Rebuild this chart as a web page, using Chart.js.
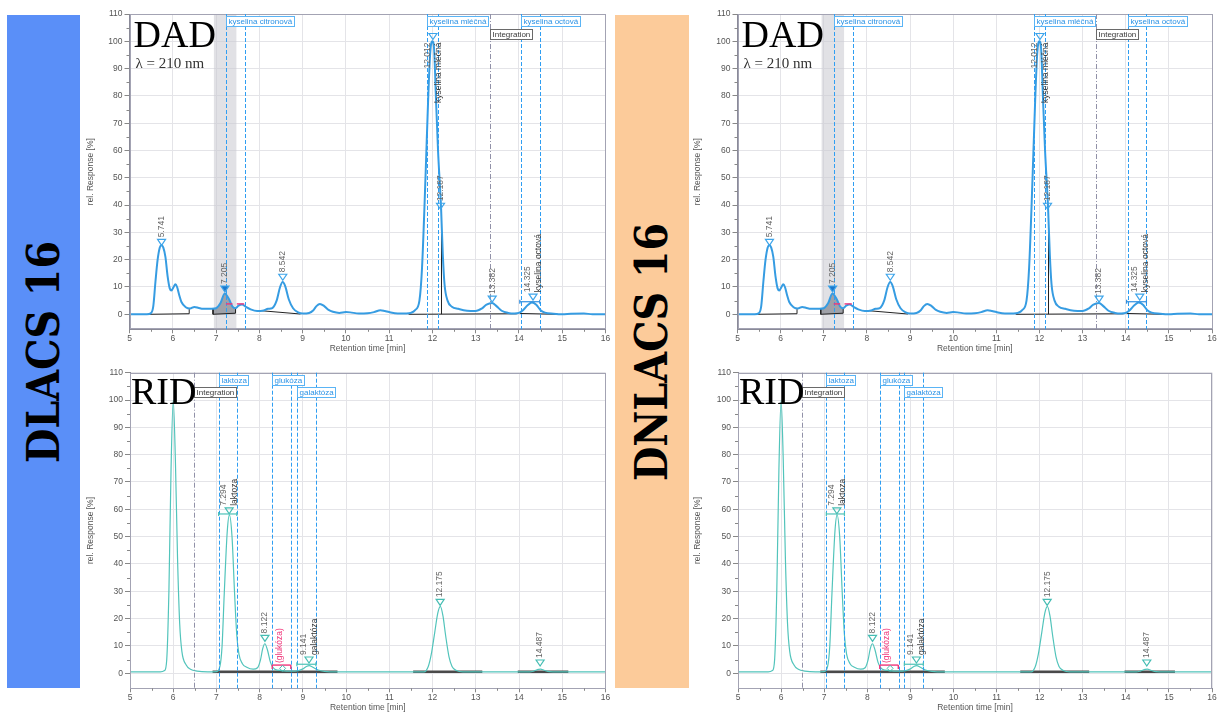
<!DOCTYPE html>
<html>
<head>
<meta charset="utf-8">
<script src="https://cdn.jsdelivr.net/npm/chart.js@4.4.1/dist/chart.umd.min.js"></script>
<style>
html,body{margin:0;padding:0;background:#fff;}
body{width:1228px;height:713px;position:relative;overflow:hidden;}
.panel{position:absolute;}
.banner{position:absolute;overflow:hidden;}
.banner div{position:absolute;left:50%;top:50%;white-space:nowrap;font-family:'DejaVu Serif Condensed','DejaVu Serif';font-stretch:condensed;font-weight:bold;color:#000;transform:translate(-50%,-50%) rotate(-90deg);line-height:1;}
</style>
</head>
<body>
<div class="banner" style="left:7px;top:15px;width:73px;height:673px;background:#5a8ff8;"><div style="font-size:44px;">DLACS 16</div></div>
<div class="banner" style="left:615px;top:15px;width:74px;height:673px;background:#fccb9a;"><div style="font-size:44px;">DNLACS 16</div></div>
<div class="panel" style="left:80px;top:0;width:535px;height:360px"><canvas id="c1" width="535" height="360"></canvas></div>
<div class="panel" style="left:80px;top:360px;width:535px;height:353px"><canvas id="c2" width="535" height="353"></canvas></div>
<div class="panel" style="left:690px;top:0;width:538px;height:360px"><canvas id="c3" width="538" height="360"></canvas></div>
<div class="panel" style="left:690px;top:360px;width:538px;height:353px"><canvas id="c4" width="538" height="353"></canvas></div>
<script>
// ---------- DATA ----------
const xTickValues = [5,6,7,8,9,10,11,12,13,14,15,16];
const yTickValues = [0,10,20,30,40,50,60,70,80,90,100,110];
const xRange = [5, 16];
const yRange = [-5.5, 110];

// DAD (lambda = 210 nm) chromatogram
const dadTime = [5.00,5.40,5.50,5.55,5.60,5.65,5.70,5.74,5.78,5.83,5.88,5.93,5.97,6.02,6.06,6.10,6.15,6.20,6.30,6.40,6.50,6.60,6.70,6.90,7.00,7.10,7.20,7.30,7.38,7.45,7.52,7.60,7.70,7.80,7.95,8.10,8.20,8.30,8.40,8.48,8.54,8.60,8.68,8.78,8.90,9.00,9.15,9.25,9.32,9.40,9.50,9.60,9.70,9.85,10.00,10.10,10.30,10.50,10.65,10.80,10.90,11.00,11.20,11.40,11.50,11.60,11.70,11.76,11.84,11.90,11.95,12.00,12.04,12.08,12.13,12.20,12.24,12.28,12.35,12.45,12.60,12.80,13.00,13.15,13.25,13.38,13.48,13.60,13.75,13.90,14.00,14.10,14.20,14.30,14.40,14.50,14.60,14.80,15.00,15.20,15.50,15.70,16.00];
const dadResp = [0,0,0.5,3,12,20,24.5,25.3,24.5,21,14,9.5,8.7,10,11,10,7,4.5,2.6,2.1,2.7,2.3,2.0,2.0,2.2,4.0,7.6,5.5,2.8,2.2,3.2,3.6,2.6,1.8,1.2,1.4,2.0,2.3,5.0,10.0,11.8,10.2,5.5,2.2,0.7,0.3,0.5,1.5,3.0,3.8,3.0,1.6,0.9,0.5,0.8,0.7,0.3,0.4,0.8,1.5,1.2,0.8,0.3,0.3,0.5,1.5,5,17,50,78,96,100,97,80,60,39,22,11,5,2.8,2.0,1.3,1.2,2.2,3.5,4.1,3.0,1.3,0.5,0.3,0.5,1.6,3.3,4.3,3.5,1.5,0.6,0.2,0.0,0.2,0.3,0.0,0.0];
// integrated (shaded) part of the 7.205 peak
const dadShadeTime = [6.93,7.00,7.10,7.20,7.30,7.38,7.45];
const dadShadeResp = [2.0,2.2,4.0,7.6,5.5,2.8,2.2];
const dadPeakTimes = [5.741,7.205,8.542,12.012,12.187,13.382,14.325];
const dadPeakHeights = [26.0,8.9,13.2,101.4,39.2,5.2,5.9];
const dadPeakNames = ['','','','kyselina mléčná','','','kyselina octová'];
const dadSelectedPeak = 7.205;
const dadWinStart = [7.24,11.885,14.05];
const dadWinEnd = [7.67,12.12,14.48];
const dadWinNames = ['kyselina citronová','kyselina mléčná','kyselina octová'];
const dadIntegration = 13.32;
const dadBand = [6.95,7.47];
const dadBaselines = [[[5.44,0],[6.38,0.2],[6.38,1.9]],[[6.93,2.0],[6.93,0],[7.45,0.4],[7.45,2.2]],[[8.05,1.3],[8.95,0.1]],[[11.45,0],[13.95,0.2]],[[12.21,0.05],[12.21,38]],[[14.02,0.3],[14.9,0]]];
const dadPeakBars = [[14.02,14.48,4.6]];
const dadPinkDashes = [[7.23,7.38,3.8],[7.48,7.65,3.8]];

// RID chromatogram
const ridTime = [5.00,5.70,5.80,5.85,5.90,5.95,6.00,6.05,6.10,6.15,6.20,6.30,6.40,6.55,6.80,7.00,7.08,7.13,7.18,7.25,7.30,7.36,7.42,7.47,7.52,7.60,7.70,7.85,7.95,8.02,8.07,8.12,8.18,8.25,8.35,8.50,8.70,8.90,9.00,9.08,9.15,9.22,9.35,9.50,9.80,11.80,11.90,11.97,12.05,12.12,12.18,12.24,12.30,12.38,12.45,12.55,12.70,14.25,14.35,14.45,14.50,14.58,14.70,14.90,16.00];
const ridResp = [0.5,0.5,1.0,5,30,75,100,78,42,18,8,3,1.5,0.8,0.5,0.6,2.5,10,29,52,58,50,29,14,7,3.5,2.2,1.5,2.0,5,9,10.8,8.5,4,1.5,1.0,0.8,1.0,1.6,2.5,2.8,2.3,1.2,0.7,0.5,0.5,2.5,7,15,22,24.5,21,14,6,2.5,1.0,0.5,0.5,0.9,1.4,1.5,1.1,0.6,0.5,0.5];
const ridPeakTimes = [7.294,8.122,9.141,12.175,14.487];
const ridPeakHeights = [59.1,12.4,4.5,25.6,3.4];
const ridPeakNames = ['laktoza','','galaktóza','',''];
const ridWinStart = [7.05,8.29,8.86];
const ridWinEnd = [7.47,8.73,9.30];
const ridWinNames = ['laktoza','glukóza','galaktóza'];
const ridIntegration = 6.49;
const ridBaselines = [[[6.91,0.6],[9.8,0.6]],[[11.55,0.6],[13.15,0.6]],[[13.97,0.6],[15.14,0.6]]];
const ridPeakBars = [[7.05,7.47,58.3],[8.86,9.30,3.3]];
const ridMissingName = '(glukóza)';
const ridMissingTime = 8.53;
const ridMissingHeight = 1.8;
const ridMissingBracket = [8.29,8.72,3.0];

// ---------- DRAWING ----------
const FONT = "'Liberation Sans', Arial, sans-serif";
const SERIF = "'Liberation Serif', 'Times New Roman', serif";

const annotPlugin = {
  id: 'annot',
  beforeDatasetsDraw(chart, args, o) {
    const {ctx, chartArea: a, scales: {x}} = chart;
    if (!o.band) return;
    ctx.save();
    const x0 = x.getPixelForValue(o.band[0]), x1 = x.getPixelForValue(o.band[1]);
    ctx.fillStyle = 'rgba(200,201,207,0.55)';
    ctx.fillRect(x0, a.top, x1 - x0, a.bottom - a.top);
    ctx.restore();
  },
  afterDatasetsDraw(chart, args, o) {
    const {ctx, chartArea: a, scales: {x, y}} = chart;
    const X = v => x.getPixelForValue(v), Y = v => y.getPixelForValue(v);
    const seg = (x0, y0, x1, y1) => { ctx.beginPath(); ctx.moveTo(x0, y0); ctx.lineTo(x1, y1); ctx.stroke(); };
    ctx.save();
    // plot frame
    ctx.strokeStyle = '#a3a3b3'; ctx.lineWidth = 1;
    ctx.strokeRect(Math.round(a.left) + 0.5, Math.round(a.top) + 0.5, Math.round(a.right - a.left) - 1, Math.round(a.bottom - a.top) - 1);
    // minor ticks
    ctx.strokeStyle = '#888';
    for (let i = 0; i < xTickValues.length - 1; i++) {
      const px = Math.round(X((xTickValues[i] + xTickValues[i + 1]) / 2)) + 0.5;
      seg(px, a.bottom, px, a.bottom + 2.5);
    }
    for (let i = 0; i < yTickValues.length - 1; i++) {
      const py = Math.round(Y((yTickValues[i] + yTickValues[i + 1]) / 2)) + 0.5;
      seg(a.left - 3, py, a.left, py);
    }
    // window lines
    ctx.lineWidth = 1; ctx.strokeStyle = '#2f9ef2'; ctx.setLineDash([4, 2]);
    o.winStart.forEach((s, i) => {
      [s, o.winEnd[i]].forEach(v => { const px = Math.round(X(v)) + 0.5; seg(px, a.top, px, a.bottom); });
    });
    // integration line
    ctx.strokeStyle = '#9191a8'; ctx.setLineDash([5, 2, 1, 2]);
    { const px = Math.round(X(o.integ)) + 0.5; seg(px, a.top, px, a.bottom); }
    ctx.setLineDash([]);
    // peak bars
    (o.bars || []).forEach(b => {
      ctx.strokeStyle = o.barColor; ctx.lineWidth = 1.2;
      const py = Y(b[2]);
      seg(X(b[0]), py, X(b[1]), py);
      seg(X(b[0]), py - 2, X(b[0]), py + 2);
      seg(X(b[1]), py - 2, X(b[1]), py + 2);
    });
    // pink dashes
    ctx.strokeStyle = '#f0357a'; ctx.lineWidth = 1.4;
    (o.pinkDashes || []).forEach(d => { const py = Y(d[2]); seg(X(d[0]), py, X(d[1]), py); });
    if (o.missing) {
      const m = o.missing, py = Y(m.bracket[2]);
      seg(X(m.bracket[0]), py, X(m.bracket[1]), py);
      seg(X(m.bracket[0]), py, X(m.bracket[0]), py + 4);
      seg(X(m.bracket[1]), py, X(m.bracket[1]), py + 4);
      const px = X(m.t), pm = Y(m.h);
      ctx.beginPath(); ctx.moveTo(px, pm - 3); ctx.lineTo(px + 3, pm); ctx.lineTo(px, pm + 3); ctx.lineTo(px - 3, pm); ctx.closePath();
      ctx.strokeStyle = o.markColor; ctx.lineWidth = 1; ctx.stroke();
      ctx.font = '8.5px ' + FONT; ctx.fillStyle = '#f0357a';
      ctx.save(); ctx.translate(px - 3, 0); ctx.rotate(-Math.PI / 2);
      ctx.textAlign = 'left'; ctx.textBaseline = 'middle';
      ctx.fillText(m.name, -(py - 2), 0); ctx.restore();
    }
    // peak markers and labels
    ctx.font = '8.5px ' + FONT;
    o.peakT.forEach((t, i) => {
      const px = X(t), py = Y(o.peakH[i]);
      ctx.beginPath(); ctx.moveTo(px - 4, py - 4); ctx.lineTo(px + 4, py - 4); ctx.lineTo(px, py + 2); ctx.closePath();
      if (t === o.selected) { ctx.fillStyle = o.markFill; ctx.fill(); }
      ctx.strokeStyle = o.markColor; ctx.lineWidth = 1.2; ctx.stroke();
      const labels = [t.toFixed(3)];
      if (o.peakNames[i]) labels.push(o.peakNames[i]);
      labels.forEach((txt, j) => {
        const w = ctx.measureText(txt).width;
        const lx = labels.length > 1 ? px + (j === 0 ? -5.5 : 5.5) : px;
        ctx.save(); ctx.translate(lx, 0); ctx.rotate(-Math.PI / 2);
        ctx.fillStyle = j === 1 ? '#3a3a3a' : '#666'; ctx.textBaseline = 'middle';
        if (py - 6 - w < a.top + 2) { ctx.textAlign = 'right'; ctx.fillText(txt, -(py + 5), 0); }
        else { ctx.textAlign = 'left'; ctx.fillText(txt, -(py - 6), 0); }
        ctx.restore();
      });
    });
    // label boxes at top
    ctx.font = '8px ' + FONT;
    const rows = [[], [], []];
    const place = (x0, w) => {
      for (let r = 0; r < 3; r++) {
        if (rows[r].every(([s, e]) => x0 > e + 1 || x0 + w < s - 1)) { rows[r].push([x0, x0 + w]); return r; }
      }
      return 2;
    };
    const drawBox = (x0, text, col, border) => {
      const w = Math.round(ctx.measureText(text).width + 4);
      const r = place(x0, w);
      const top = Math.round(a.top + 2 + r * 12.5);
      const l = Math.round(x0);
      ctx.fillStyle = '#fff'; ctx.fillRect(l, top, w, 10);
      ctx.strokeStyle = border; ctx.lineWidth = 1; ctx.strokeRect(l + 0.5, top + 0.5, w, 10);
      ctx.fillStyle = col; ctx.textBaseline = 'middle'; ctx.textAlign = 'left';
      ctx.fillText(text, l + 2.5, top + 6);
    };
    o.winNames.forEach((n, i) => drawBox(X(o.winStart[i]), n, '#2b93e6', '#5ab4f5'));
    drawBox(X(o.integ), 'Integration', '#3a3a3a', '#6a6a6a');
    // big titles
    ctx.fillStyle = '#000'; ctx.textAlign = 'left'; ctx.textBaseline = 'alphabetic';
    ctx.font = '38px ' + SERIF;
    ctx.fillText(o.title, a.left + o.titleDx, a.top + o.titleBase);
    if (o.subtitle) {
      ctx.font = '15px ' + SERIF; ctx.fillStyle = '#333';
      ctx.fillText(o.subtitle, a.left + 6, a.top + 54);
    }
    ctx.restore();
  }
};

function makeChart(id, g, s) {
  const datasets = [{
    data: s.t.map((t, i) => ({x: t, y: s.r[i]})),
    borderColor: s.color, borderWidth: s.width, pointRadius: 0, fill: false,
    cubicInterpolationMode: 'monotone', order: 0
  }];
  if (s.shadeT) datasets.push({
    data: s.shadeT.map((t, i) => ({x: t, y: s.shadeR[i]})),
    borderWidth: 0, borderColor: 'rgba(0,0,0,0)', backgroundColor: 'rgba(125,127,135,0.65)',
    fill: 'origin', pointRadius: 0, cubicInterpolationMode: 'monotone', order: 3
  });
  s.baselines.forEach(b => datasets.push({
    data: b.map(p => ({x: p[0], y: p[1]})), borderColor: s.baseColor, borderWidth: s.baseWidth,
    pointRadius: 0, tension: 0, fill: false, order: 2
  }));
  const tickFont = {family: FONT, size: 8.5};
  return new Chart(document.getElementById(id), {
    type: 'line',
    data: {datasets},
    options: {
      responsive: false, animation: false, devicePixelRatio: 1,
      events: [],
      layout: {padding: {top: g.top, right: g.right, left: 0, bottom: 0}},
      plugins: {legend: {display: false}, tooltip: {enabled: false}, annot: s.annot},
      scales: {
        x: {
          type: 'linear', min: xRange[0], max: xRange[1],
          afterBuildTicks: sc => { sc.ticks = xTickValues.map(v => ({value: v})); },
          afterFit: sc => { sc.height = g.xH; },
          ticks: {font: tickFont, color: '#555', padding: 0, maxRotation: 0, autoSkip: false},
          grid: {color: '#e4e4e8', tickColor: '#888', tickLength: 4},
          border: {color: '#8a8a98'},
          title: {display: true, text: 'Retention time [min]', color: '#555', font: tickFont, padding: {top: 0, bottom: g.xTitleB}}
        },
        y: {
          type: 'linear', min: yRange[0], max: yRange[1],
          afterBuildTicks: sc => { sc.ticks = yTickValues.map(v => ({value: v})); },
          afterFit: sc => { sc.width = g.yW; },
          ticks: {font: tickFont, color: '#555', padding: 2, autoSkip: false},
          grid: {color: '#e4e4e8', tickColor: '#888', tickLength: 5},
          border: {color: '#8a8a98'},
          title: {display: true, text: 'rel. Response [%]', color: '#555', font: tickFont, padding: {top: g.yTitleP, bottom: 0}}
        }
      }
    },
    plugins: [annotPlugin]
  });
}

const dadSpec = {
  t: dadTime, r: dadResp, color: '#369ce2', width: 2,
  shadeT: dadShadeTime, shadeR: dadShadeResp,
  baselines: dadBaselines, baseColor: '#222', baseWidth: 1,
  annot: {
    band: dadBand, winStart: dadWinStart, winEnd: dadWinEnd, winNames: dadWinNames, integ: dadIntegration,
    bars: dadPeakBars, barColor: '#2f8fe0', pinkDashes: dadPinkDashes,
    peakT: dadPeakTimes, peakH: dadPeakHeights, peakNames: dadPeakNames, selected: dadSelectedPeak,
    markColor: '#3ea5ea', markFill: '#1d78cc',
    title: 'DAD', titleDx: 4, titleBase: 33, subtitle: 'λ = 210 nm'
  }
};
const ridSpec = {
  t: ridTime, r: ridResp, color: '#52c4bb', width: 1.2,
  baselines: ridBaselines, baseColor: '#4a4a4a', baseWidth: 2.5,
  annot: {
    winStart: ridWinStart, winEnd: ridWinEnd, winNames: ridWinNames, integ: ridIntegration,
    bars: ridPeakBars, barColor: '#4cc2b8',
    missing: {name: ridMissingName, t: ridMissingTime, h: ridMissingHeight, bracket: ridMissingBracket},
    peakT: ridPeakTimes, peakH: ridPeakHeights, peakNames: ridPeakNames, selected: null,
    markColor: '#45bdb3', markFill: '#45bdb3',
    title: 'RID', titleDx: 1, titleBase: 31, subtitle: ''
  }
};

makeChart('c1', {top: 14, right: 9.5, yW: 49.5, xH: 30.7, yTitleP: 6, xTitleB: 6}, dadSpec);
makeChart('c2', {top: 12.7, right: 9.5, yW: 50, xH: 24.7, yTitleP: 6, xTitleB: 0}, ridSpec);
makeChart('c3', {top: 14, right: 16, yW: 47.5, xH: 30.7, yTitleP: 2.4, xTitleB: 6}, dadSpec);
makeChart('c4', {top: 12.7, right: 16, yW: 48, xH: 24.7, yTitleP: 2.4, xTitleB: 0}, ridSpec);
</script>
</body>
</html>
